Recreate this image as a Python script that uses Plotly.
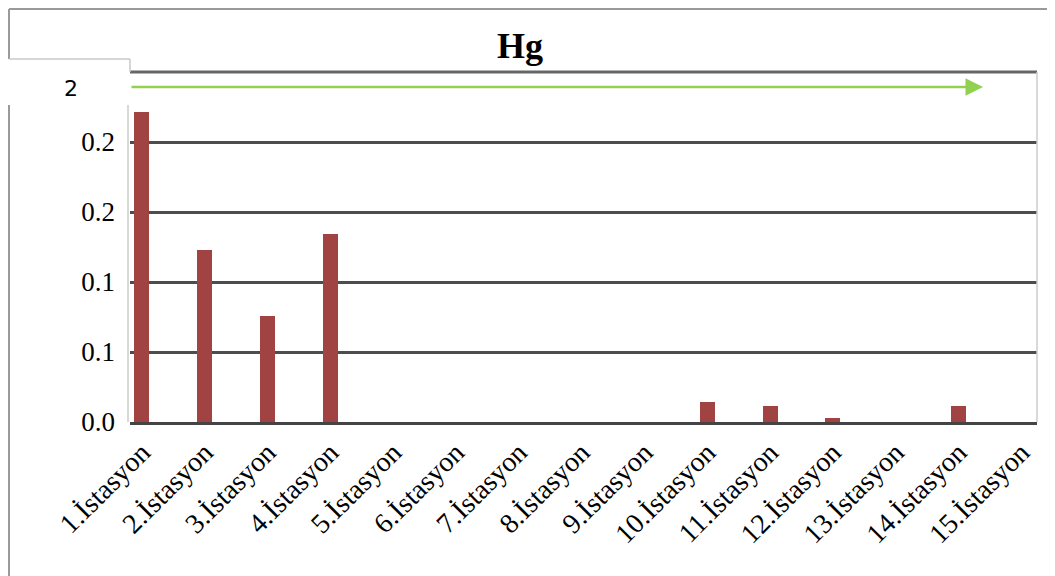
import plotly.graph_objects as go

categories = [f"{i}.İstasyon" for i in range(1, 16)]
hg_values = [0.2214, 0.1229, 0.0757, 0.1343, 0, 0, 0, 0, 0, 0.0143, 0.0116, 0.0031, 0, 0.0116, 0]
y_tickvals = [0, 0.05, 0.1, 0.15, 0.2]
y_ticktext = ["0.0", "0.1", "0.1", "0.2", "0.2"]

# page body has an 8px margin; work in screen pixels and shift
OFF = 8
W, H = 1055 - OFF, 576 - OFF
L, T = 130 - OFF, 72 - OFF
PW, PH = 907, 350
R = W - L - PW
B = H - T - PH

def px(x):
    return (x - OFF - L) / PW

def py(y):
    return (T + PH - (y - OFF)) / PH

fig = go.Figure()
fig.add_trace(go.Bar(
    x=categories, y=hg_values, width=0.24,
    marker=dict(color="#A24343", line=dict(width=0)),
))

serif = "Liberation Serif, Times New Roman, serif"
fig.update_layout(
    width=W, height=H,
    margin=dict(l=L, r=R, t=T, b=B, pad=0),
    paper_bgcolor="white", plot_bgcolor="white",
    showlegend=False,
    title=dict(text="<b>Hg</b>", x=(520 - OFF) / W, xanchor="center", y=1 - (45 - OFF) / H, yanchor="middle",
               font=dict(family=serif, size=36, color="black")),
    font=dict(family=serif, color="black"),
    bargap=0,
)
fig.update_xaxes(
    type="category", range=[-0.19, 14.25], tickangle=-45,
    tickfont=dict(family=serif, size=28, color="black"),
    showgrid=False, showline=True, linecolor="#444444", linewidth=2.5,
    ticks="", ticklen=0,
)
fig.update_yaxes(
    range=[0, 0.25], tickvals=y_tickvals, ticktext=y_ticktext,
    tickfont=dict(family=serif, size=27, color="black"),
    showgrid=True, gridcolor="#4d4d4d", gridwidth=2.5,
    zeroline=False, showline=False, ticks="", ticklabelstandoff=14,
)

shapes = []
gray = "#9a9a9a"
shapes.append(dict(type="line", xref="paper", yref="paper", x0=0, x1=px(1037), y0=1, y1=1,
                   line=dict(color="#666666", width=3)))
shapes.append(dict(type="line", xref="paper", yref="paper", x0=px(1037), x1=px(1037), y0=0, y1=1,
                   line=dict(color="#cccccc", width=1.5)))
shapes.append(dict(type="line", xref="paper", yref="paper", x0=px(128), x1=px(128), y0=0, y1=py(105),
                   line=dict(color="#cccccc", width=1.5)))
shapes.append(dict(type="line", xref="paper", yref="paper", x0=px(9), x1=px(1063), y0=py(9), y1=py(9),
                   line=dict(color=gray, width=2)))
shapes.append(dict(type="line", xref="paper", yref="paper", x0=px(9), x1=px(9), y0=py(9), y1=py(59),
                   line=dict(color=gray, width=2)))
shapes.append(dict(type="line", xref="paper", yref="paper", x0=px(9), x1=px(130), y0=py(59), y1=py(59),
                   line=dict(color="#c8c8c8", width=1.5)))
shapes.append(dict(type="line", xref="paper", yref="paper", x0=px(130), x1=px(130), y0=py(59), y1=py(72),
                   line=dict(color="#c8c8c8", width=1.5)))
shapes.append(dict(type="line", xref="paper", yref="paper", x0=px(9), x1=px(9), y0=py(105), y1=py(590),
                   line=dict(color=gray, width=2)))
fig.update_layout(shapes=shapes)

fig.add_annotation(x=px(71), y=py(88), xref="paper", yref="paper", text="2", showarrow=False,
                   font=dict(family="DejaVu Sans, sans-serif", size=22, color="black"),
                   xanchor="center", yanchor="middle")
fig.add_annotation(x=px(983), y=py(87), xref="paper", yref="paper", text="",
                   showarrow=True, ax=-(983 - 130), ay=0, axref="pixel", ayref="pixel",
                   arrowhead=2, arrowsize=1.4, arrowwidth=2.5, arrowcolor="#92D050", standoff=0)

fig.write_html("out.html")
